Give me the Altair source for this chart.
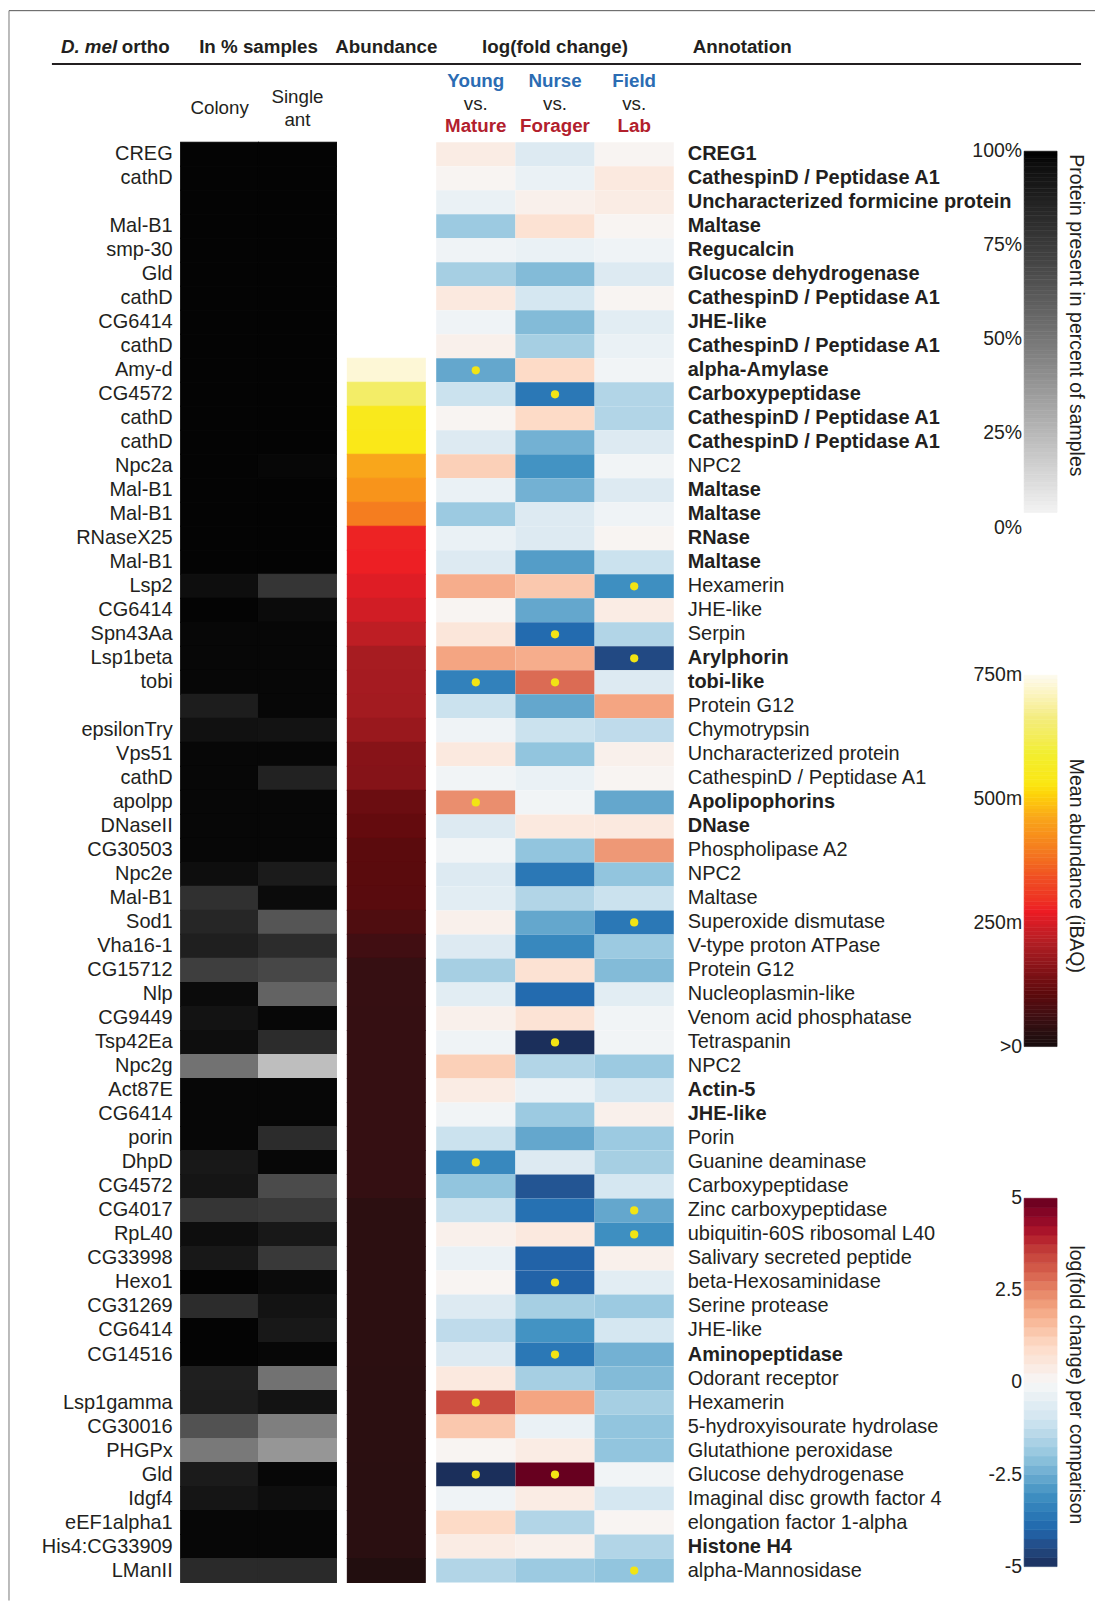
import altair as alt
import pandas as pd
import numpy as np

FONT = "Liberation Sans"
TXT = "#231f20"
BLUE = "#2b6cb3"
RED = "#b2202d"
DOT = "#f2e414"
FS = 20
HFS = 18.8

genes = ["CREG", "cathD", "", "Mal-B1", "smp-30", "Gld", "cathD", "CG6414", "cathD", "Amy-d",
         "CG4572", "cathD", "cathD", "Npc2a", "Mal-B1", "Mal-B1", "RNaseX25", "Mal-B1", "Lsp2", "CG6414",
         "Spn43Aa", "Lsp1beta", "tobi", "", "epsilonTry", "Vps51", "cathD", "apolpp", "DNaseII", "CG30503",
         "Npc2e", "Mal-B1", "Sod1", "Vha16-1", "CG15712", "Nlp", "CG9449", "Tsp42Ea", "Npc2g", "Act87E",
         "CG6414", "porin", "DhpD", "CG4572", "CG4017", "RpL40", "CG33998", "Hexo1", "CG31269", "CG6414",
         "CG14516", "", "Lsp1gamma", "CG30016", "PHGPx", "Gld", "Idgf4", "eEF1alpha1", "His4:CG33909", "LManII"]

annotations = ["CREG1", "CathespinD / Peptidase A1", "Uncharacterized formicine protein", "Maltase",
               "Regucalcin", "Glucose dehydrogenase", "CathespinD / Peptidase A1", "JHE-like",
               "CathespinD / Peptidase A1", "alpha-Amylase", "Carboxypeptidase", "CathespinD / Peptidase A1",
               "CathespinD / Peptidase A1", "NPC2", "Maltase", "Maltase", "RNase", "Maltase", "Hexamerin",
               "JHE-like", "Serpin", "Arylphorin", "tobi-like", "Protein G12", "Chymotrypsin",
               "Uncharacterized protein", "CathespinD / Peptidase A1", "Apolipophorins", "DNase",
               "Phospholipase A2", "NPC2", "Maltase", "Superoxide dismutase", "V-type proton ATPase",
               "Protein G12", "Nucleoplasmin-like", "Venom acid phosphatase", "Tetraspanin", "NPC2", "Actin-5",
               "JHE-like", "Porin", "Guanine deaminase", "Carboxypeptidase", "Zinc carboxypeptidase",
               "ubiquitin-60S ribosomal L40", "Salivary secreted peptide", "beta-Hexosaminidase",
               "Serine protease", "JHE-like", "Aminopeptidase", "Odorant receptor", "Hexamerin",
               "5-hydroxyisourate hydrolase", "Glutathione peroxidase", "Glucose dehydrogenase",
               "Imaginal disc growth factor 4", "elongation factor 1-alpha", "Histone H4", "alpha-Mannosidase"]

bold_rows = [1, 2, 3, 4, 5, 6, 7, 8, 9, 10, 11, 12, 13, 15, 16, 17, 18, 22, 23, 28, 29, 40, 41, 51, 59]

colony_pct = [99, 99, 99, 99, 99, 99, 99, 99, 99, 99, 99, 99, 99, 99, 99, 99, 99, 99, 96, 99,
              98, 98, 98, 89, 95, 98, 98, 98, 98, 98, 96, 80, 85, 88, 74, 97, 94, 96, 52, 98,
              98, 98, 92, 93, 78, 96, 92, 99, 82, 99, 99, 88, 89, 65, 49, 90, 93, 98, 98, 83]
single_ant_pct = [99, 99, 99, 99, 99, 99, 99, 99, 99, 99, 99, 99, 99, 98, 99, 99, 99, 99, 78, 97,
                  98, 98, 98, 98, 94, 98, 87, 98, 98, 98, 90, 97, 64, 82, 70, 58, 98, 82, 23, 98,
                  98, 82, 98, 68, 76, 92, 76, 97, 94, 92, 98, 52, 94, 47, 38, 98, 96, 98, 98, 83]

abundance_m = [None, None, None, None, None, None, None, None, None,
               730, 640, 548, 540, 461, 434, 400, 280, 276, 259, 244, 222, 196, 194, 192, 180,
               157, 155, 124, 114, 102, 101, 100, 84, 63,
               47, 47, 46, 46, 46, 45, 45, 45, 44, 44,
               33, 33, 33, 32, 32, 32, 32, 31, 31, 31, 31, 30, 30, 30, 30, 18]

young_vs_mature = [0.4, 0.1, -0.35, -1.85, -0.2, -1.7, 0.5, -0.2, 0.25, -2.6,
                   -1.1, 0.1, -0.7, 1.2, -0.35, -1.85, -0.35, -0.7, 1.85, 0.1,
                   0.6, 2.0, -3.4, -1.1, -0.2, 0.5, -0.15, 2.35, -0.7, -0.15,
                   -0.7, -0.55, 0.25, -0.7, -1.7, -0.55, 0.25, -0.2, 1.2, 0.4,
                   -0.15, -1.1, -3.25, -2.0, -1.1, 0.25, -0.35, 0.1, -0.7, -1.3,
                   -0.7, 0.5, 3.3, 1.35, 0.1, -5.0, -0.2, 1.0, 0.4, -1.5]
nurse_vs_forager = [-0.7, -0.35, 0.25, 0.75, -0.35, -2.2, -0.9, -2.2, -1.7, 1.0,
                    -3.6, 1.0, -2.4, -3.0, -2.4, -0.7, -0.7, -2.8, 1.35, -2.6,
                    -3.9, 1.85, 2.85, -2.6, -1.1, -2.0, -0.35, -0.15, 0.5, -2.0,
                    -3.6, -1.5, -2.6, -3.25, 0.75, -3.9, 0.7, -5.0, -1.5, -0.35,
                    -1.85, -2.6, -0.7, -4.3, -3.75, 0.5, -4.05, -4.05, -1.7, -3.0,
                    -3.6, -1.7, 2.0, -0.35, 0.4, 5.0, 0.4, -1.5, 0.25, -1.85]
field_vs_lab = [0.1, 0.5, 0.4, 0.1, -0.2, -0.7, 0.1, -0.55, -0.35, -0.15,
                -1.5, -1.5, -0.7, -0.15, -0.7, -0.2, 0.1, -1.1, -3.1, 0.4,
                -1.5, -4.5, -0.7, 2.0, -1.3, 0.25, 0.1, -2.6, 0.5, 2.2,
                -2.0, -1.1, -3.6, -1.85, -2.2, -0.55, -0.15, -0.15, -1.85, -0.9,
                0.25, -1.85, -1.7, -0.9, -2.6, -3.1, 0.25, -0.55, -1.85, -0.9,
                -2.4, -2.2, -1.7, -2.0, -2.0, -0.15, -0.9, 0.1, -1.5, -2.0]

sig_young = [10, 23, 28, 43, 53, 56]
sig_nurse = [11, 21, 23, 38, 48, 51, 56]
sig_field = [19, 22, 33, 45, 46, 60]

samples = ["Colony", "Single ant"]
comparisons = ["Young", "Nurse", "Field"]
comp_bottom = ["Mature", "Forager", "Lab"]

gray_ticks = [0, 25, 50, 75, 100]
gray_tick_labels = ["0%", "25%", "50%", "75%", "100%"]
abund_ticks = [0, 250, 500, 750]
abund_tick_labels = [">0", "250m", "500m", "750m"]
fold_ticks = [-5, -2.5, 0, 2.5, 5]
fold_tick_labels = ["-5", "-2.5", "0", "2.5", "5"]

n = len(genes)
assert all(len(a) == n for a in [annotations, colony_pct, single_ant_pct, abundance_m,
                                  young_vs_mature, nurse_vs_forager, field_vs_lab])
rows = list(range(n))

# ---------------- scales ----------------
row_scale = alt.Scale(type="band", domain=rows, paddingInner=0, paddingOuter=0)
Y = alt.Y("row:O", scale=row_scale, axis=None)
gray_scale = alt.Scale(domain=[0, 100], range=["#ffffff", "#000000"])
abund_scale = alt.Scale(
    domain=[0, 107, 161, 207, 274, 341, 394, 461, 531, 594, 661, 750],
    range=["#160b0c", "#5e0a0c", "#8a1419", "#b01e24", "#ed1c24", "#f04e23", "#f47920",
           "#f9a61b", "#fbe712", "#f2ee30", "#f3ec7a", "#fdfbf0"])
fold_scale = alt.Scale(
    domain=[-5, -4, -3, -2, -1, 0, 1, 2, 3, 4, 5],
    range=["#1b2f5b", "#2166ac", "#4393c3", "#92c5de", "#d1e5f0", "#f7f7f7",
           "#fddbc7", "#f4a582", "#d6604d", "#b2182b", "#67001f"])
sample_scale = alt.Scale(type="band", domain=samples, paddingInner=0, paddingOuter=0)
comp_scale = alt.Scale(type="band", domain=comparisons, paddingInner=0, paddingOuter=0)

one = pd.DataFrame({"k": [0]})


def label(text, x, y, **kw):
    params = dict(font=FONT, color=TXT, baseline="middle", fontSize=HFS)
    params.update(kw)
    return alt.Chart(pd.DataFrame({"t": [text]})).mark_text(**params).encode(
        x=alt.value(x), y=alt.value(y), text="t:N")


HDR_Y = -95.5

# ---------------- panel 1: presence in samples ----------------
gray_df = pd.DataFrame({
    "row": rows * 2,
    "sample": [samples[0]] * n + [samples[1]] * n,
    "pct": colony_pct + single_ant_pct,
})
gray_rect = alt.Chart(gray_df).mark_rect(strokeWidth=1.1).encode(
    x=alt.X("sample:N", scale=sample_scale, axis=None),
    y=Y,
    color=alt.Color("pct:Q", scale=gray_scale, legend=None),
    stroke=alt.Stroke("pct:Q", scale=gray_scale, legend=None),
)
gene_df = pd.DataFrame({"row": rows, "gene": genes})
gene_text = alt.Chart(gene_df).mark_text(
    align="right", baseline="middle", font=FONT, fontSize=FS, color=TXT
).encode(x=alt.value(-8), y=Y, text="gene:N")

XS = alt.X("sample:N", scale=sample_scale, axis=None)
sub_colony = alt.Chart(pd.DataFrame({"sample": [samples[0]], "lbl": ["Colony"]})).mark_text(
    align="center", baseline="middle", font=FONT, fontSize=HFS, color=TXT
).encode(x=XS, y=alt.value(-34), text="lbl:N")
sub_single = alt.Chart(pd.DataFrame({"sample": [samples[1]], "lbl": ["Single\nant"]})).mark_text(
    align="center", baseline="middle", font=FONT, fontSize=HFS, color=TXT,
    lineBreak="\n", lineHeight=22.7
).encode(x=XS, y=alt.value(-45.2), text="lbl:N")

frame_top = alt.Chart(one).mark_rule(color="#555555", strokeWidth=1).encode(
    x=alt.value(-172), x2=alt.value(916), y=alt.value(-131.8))
frame_left = alt.Chart(one).mark_rule(color="#777777", strokeWidth=1).encode(
    x=alt.value(-172), y=alt.value(-131.8), y2=alt.value(1461))
hline = alt.Chart(one).mark_rule(color=TXT, strokeWidth=2).encode(
    x=alt.value(-129), x2=alt.value(902), y=alt.value(-78.3))

gray_panel = alt.layer(
    gray_rect, gene_text, sub_colony, sub_single,
    label("D. mel", -120, HDR_Y, align="left", fontWeight="bold", fontStyle="italic"),
    label("ortho", -11, HDR_Y, align="right", fontWeight="bold"),
    label("In % samples", 78, HDR_Y, align="center", fontWeight="bold"),
    frame_top, frame_left, hline,
).properties(width=156, height=1443)

# ---------------- panel 2: abundance ----------------
abund_df = pd.DataFrame({"row": rows, "abund": abundance_m, "col": ["Abundance"] * n}).dropna()
abund_rect = alt.Chart(abund_df).mark_rect(strokeWidth=1.1).encode(
    x=alt.X("col:N", scale=alt.Scale(type="band", paddingInner=0, paddingOuter=0), axis=None),
    y=Y,
    color=alt.Color("abund:Q", scale=abund_scale, legend=None),
    stroke=alt.Stroke("abund:Q", scale=abund_scale, legend=None),
)
abund_panel = alt.layer(
    abund_rect,
    label("Abundance", 39, HDR_Y, align="center", fontWeight="bold"),
).properties(width=78, height=1443)

# ---------------- panel 3: fold changes, annotation, legends ----------------
sig_sets = {"Young": sig_young, "Nurse": sig_nurse, "Field": sig_field}
fold_df = pd.DataFrame({
    "row": rows * 3,
    "comp": [c for c in comparisons for _ in rows],
    "fc": young_vs_mature + nurse_vs_forager + field_vs_lab,
})
fold_df["sig"] = [int((r + 1) in sig_sets[c]) for r, c in zip(fold_df["row"], fold_df["comp"])]

XC = alt.X("comp:N", scale=comp_scale, axis=None)
heat = alt.Chart(fold_df).mark_rect().encode(
    x=XC, y=Y, color=alt.Color("fc:Q", scale=fold_scale, legend=None))
dots = alt.Chart(fold_df[fold_df["sig"] == 1]).mark_circle(size=68, color=DOT, opacity=1).encode(
    x=XC, y=Y)

ann_df = pd.DataFrame({"row": rows, "annot": annotations,
                       "bold": [int((r + 1) in bold_rows) for r in rows]})
ann_bold = alt.Chart(ann_df[ann_df["bold"] == 1]).mark_text(
    align="left", baseline="middle", font=FONT, fontSize=FS, color=TXT, fontWeight="bold"
).encode(x=alt.value(252), y=Y, text="annot:N")
ann_norm = alt.Chart(ann_df[ann_df["bold"] == 0]).mark_text(
    align="left", baseline="middle", font=FONT, fontSize=FS, color=TXT
).encode(x=alt.value(252), y=Y, text="annot:N")

sub_df = pd.DataFrame({"comp": comparisons, "bottom": comp_bottom, "vs": ["vs."] * 3})
sub_top = alt.Chart(sub_df).mark_text(
    align="center", baseline="middle", font=FONT, fontSize=HFS, color=BLUE, fontWeight="bold"
).encode(x=XC, y=alt.value(-61.5), text="comp:N")
sub_vs = alt.Chart(sub_df).mark_text(
    align="center", baseline="middle", font=FONT, fontSize=HFS, color=TXT
).encode(x=XC, y=alt.value(-38.5), text="vs:N")
sub_bot = alt.Chart(sub_df).mark_text(
    align="center", baseline="middle", font=FONT, fontSize=HFS, color=RED, fontWeight="bold"
).encode(x=XC, y=alt.value(-16.5), text="bottom:N")


def legend(lo, hi, step, yscale, cscale, ticks, tick_labels, title, title_y, title_align):
    edges = np.arange(lo, hi, step)
    gdf = pd.DataFrame({"lo": edges, "hi": edges + step, "mid": edges + step / 2})
    grad = alt.Chart(gdf).mark_rect(strokeWidth=0.6).encode(
        x=alt.value(589), x2=alt.value(622),
        y=alt.Y("lo:Q", scale=yscale, axis=None), y2="hi:Q",
        color=alt.Color("mid:Q", scale=cscale, legend=None),
        stroke=alt.Stroke("mid:Q", scale=cscale, legend=None),
    )
    labs = alt.Chart(pd.DataFrame({"v": ticks, "lbl": tick_labels})).mark_text(
        align="right", baseline="middle", font=FONT, fontSize=19.5, color=TXT
    ).encode(x=alt.value(587), y=alt.Y("v:Q", scale=yscale, axis=None), text="lbl:N")
    ttl = label(title, 641, title_y, align=title_align, angle=90, fontSize=19.5)
    return [grad, labs, ttl]


leg1 = legend(4, 100, 1, alt.Scale(domain=[0, 100], range=[386, 9]), gray_scale,
              gray_ticks, gray_tick_labels, "Protein present in percent of samples", 12, "left")
leg2 = legend(0, 750, 7.5, alt.Scale(domain=[0, 750], range=[906, 534]), abund_scale,
              abund_ticks, abund_tick_labels, "Mean abundance (iBAQ)", 725, "center")
leg3 = legend(-5, 5, 0.25, alt.Scale(domain=[-5, 5], range=[1427, 1058]), fold_scale,
              fold_ticks, fold_tick_labels, "log(fold change) per comparison", 1245, "center")

fold_panel = alt.layer(
    heat, dots, ann_bold, ann_norm, sub_top, sub_vs, sub_bot,
    label("log(fold change)", 119, HDR_Y, align="center", fontWeight="bold"),
    label("Annotation", 257, HDR_Y, align="left", fontWeight="bold"),
    *leg1, *leg2, *leg3,
).resolve_scale(y="independent", color="independent", stroke="independent").properties(
    width=238, height=1443)

chart = alt.hconcat(
    gray_panel, abund_panel, fold_panel, spacing=11, bounds="flush"
).resolve_scale(
    color="independent", x="independent", y="independent", stroke="independent"
).properties(padding=0).configure_view(stroke=None)

chart.save("out.html", embed_options={"renderer": "svg", "actions": False})
